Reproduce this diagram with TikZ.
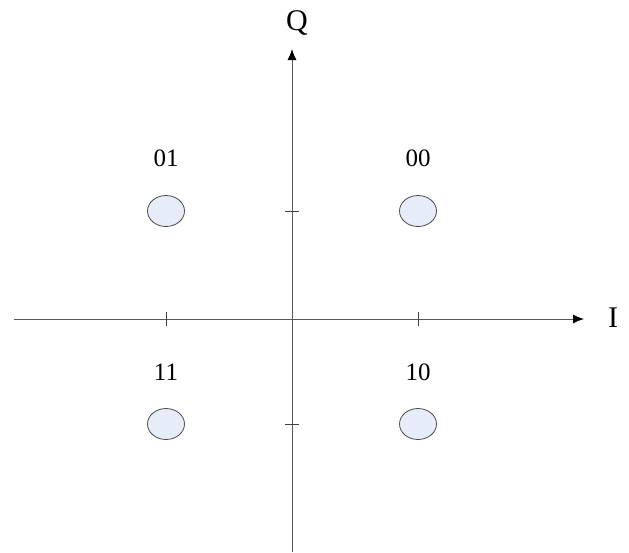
\documentclass[tikz,border=0pt]{standalone}
\usepackage{fontspec}
\setmainfont{Liberation Serif}
\usetikzlibrary{arrows.meta,shapes.geometric}
\definecolor{pointfill}{RGB}{230,237,248}

\begin{document}
\begin{tikzpicture}[
    x=1pt, y=-1pt,
    axis/.style={draw=black!65, line width=0.9pt, -{Latex[length=11pt,width=9pt,color=black]}},
    tickmark/.style={draw=black!75, line width=0.8pt},
    symbol/.style={ellipse, draw=black!70, fill=pointfill, line width=0.8pt, minimum width=37pt, minimum height=31pt, inner sep=0pt},
    bits/.style={font=\fontsize{25}{25}\selectfont},
    axlabel/.style={font=\fontsize{30}{30}\selectfont}
]
    \useasboundingbox (0,0) rectangle (629,552);

    % axes
    \coordinate (xs) at (14,319);
    \coordinate (xe) at (584,319);
    \coordinate (ys) at (292,552);
    \coordinate (ye) at (292,49);
    \draw[axis] (xs) -- (xe);
    \draw[axis] (ys) -- (ye);
    \node[axlabel] (ilab) at (613,318) {I};
    \node[axlabel] (qlab) at (297,23) {Q};

    % ticks
    \foreach \t in {166,418}
        \draw[tickmark] (\t,312) -- (\t,326);
    \foreach \t in {211,424}
        \draw[tickmark] (285,\t) -- (299,\t);

    % constellation points
    \node[symbol] (s01) at (166,211) {};
    \node[symbol] (s00) at (418,211) {};
    \node[symbol] (s11) at (166,424) {};
    \node[symbol] (s10) at (418,424) {};

    \node[bits] (l01) at (166,158) {01};
    \node[bits] (l00) at (418,158) {00};
    \node[bits] (l11) at (166,372) {11};
    \node[bits] (l10) at (418,372) {10};

\end{tikzpicture}
\end{document}
